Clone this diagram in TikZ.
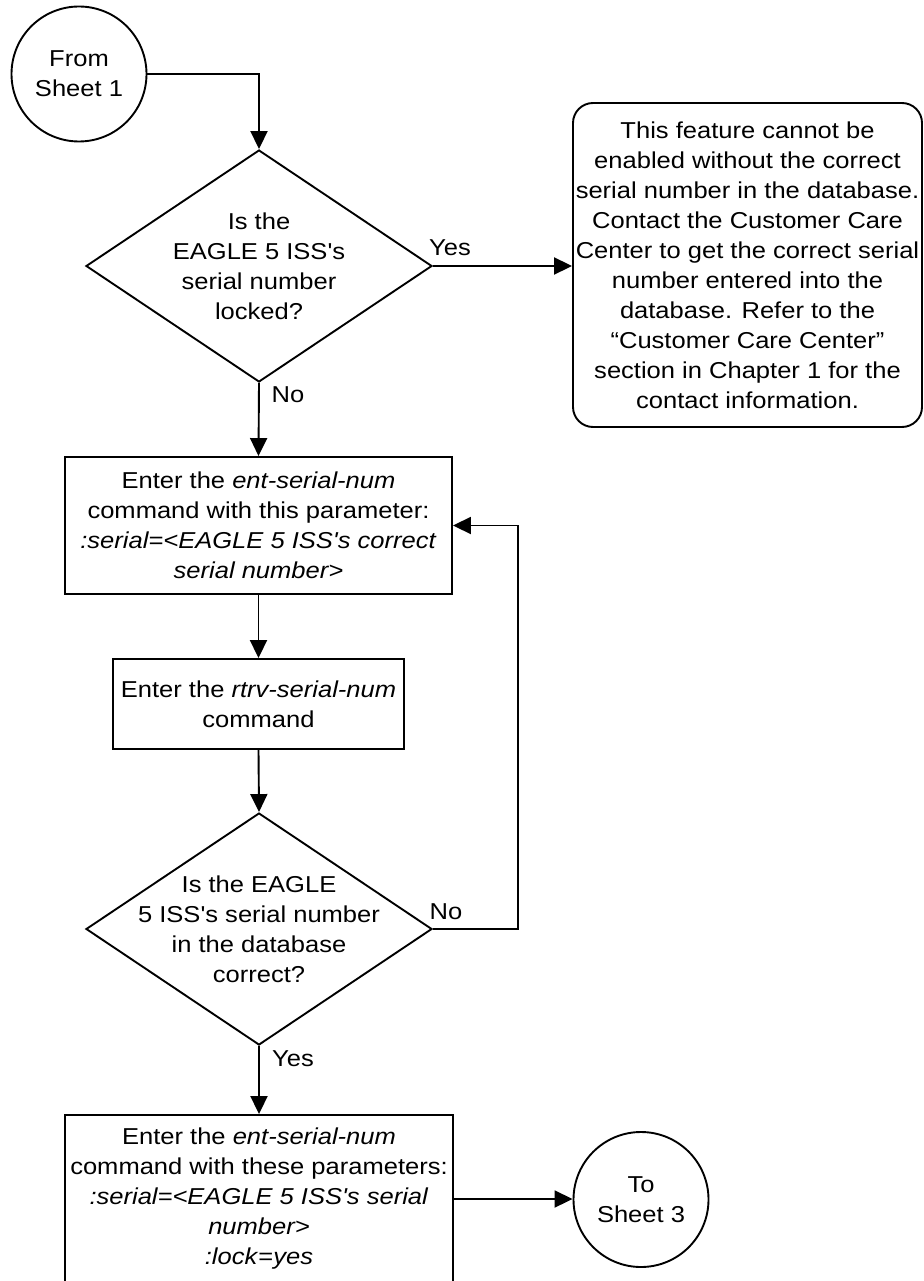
\documentclass[tikz,border=0pt]{standalone}
\usepackage{fontspec}
\newfontfamily\af{Liberation Sans}[FakeStretch=1.11]
\usetikzlibrary{shapes.geometric,arrows.meta}
\begin{document}
\begin{tikzpicture}[x=1pt,y=-1pt,
  every node/.style={font=\af\fontsize{23}{30}\selectfont, align=center},
  shp/.style={draw, line width=1.9pt, inner sep=0pt},
  circ/.style={shp, circle, minimum size=135pt},
  dia/.style={shp, diamond, minimum width=346pt, minimum height=232pt},
  proc/.style={shp, rectangle},
  rbox/.style={shp, rectangle, rounded corners=20pt, minimum width=349pt, minimum height=324pt},
  lbl/.style={inner sep=0pt},
  conn/.style={line width=1.9pt, -{Triangle[length=18pt,width=17pt]}}
]
\useasboundingbox (0,0) rectangle (923,1281);

\node[circ] (c1) at (79,74) {From\\Sheet 1};
\node[dia] (d1) at (259,266) {};
\node[lbl] at (d1) {Is the\\EAGLE 5 ISS's\\serial number\\locked?};
\node[rbox] (rb) at (747.5,265) {This feature cannot be\\enabled without the correct\\serial number in the database.\\Contact the Customer Care\\Center to get the correct serial\\number entered into the\\database. Refer to the\\“Customer Care Center”\\section in Chapter 1 for the\\contact information.};
\node[proc, minimum width=387pt, minimum height=137pt] (b1) at (258.5,525.5)
  {Enter the \textit{ent-serial-num}\\command with this parameter:\\\textit{:serial=<EAGLE 5 ISS's correct}\\\textit{serial number>}};
\node[proc, minimum width=291pt, minimum height=90pt] (b2) at (258.5,704)
  {Enter the \textit{rtrv-serial-num}\\command};
\node[dia] (d2) at (259,929) {};
\node[lbl] at (d2) {Is the EAGLE\\5 ISS's serial number\\in the database\\correct?};
\node[proc, minimum width=388pt, minimum height=168pt] (b3) at (259,1199)
  {Enter the \textit{ent-serial-num}\\command with these parameters:\\\textit{:serial=<EAGLE 5 ISS's serial}\\\textit{number>}\\\textit{:lock}=\textit{yes}};
\node[circ] (c2) at (641,1199.5) {To\\Sheet 3};

\coordinate (lp) at (518,929);

\draw[conn] (c1.east) -| (d1.north);
\draw[conn] (d1.east) -- (d1.east -| rb.west);
\draw[conn] (d1.south) -- (b1.north);
\draw[conn] (b1.south) -- (b2.north);
\draw[conn] (b2.south) -- (d2.north);
\draw[conn] (d2.east) -- (lp) |- (b1.east);
\draw[conn] (d2.south) -- (b3.north);
\draw[conn] (b3.east) -- (b3.east -| c2.west);

\node[lbl] (ly1) at (450,248) {Yes};
\node[lbl] (ln1) at (288,395) {No};
\node[lbl] (ln2) at (446,912) {No};
\node[lbl] (ly2) at (293,1059) {Yes};
\end{tikzpicture}
\end{document}
